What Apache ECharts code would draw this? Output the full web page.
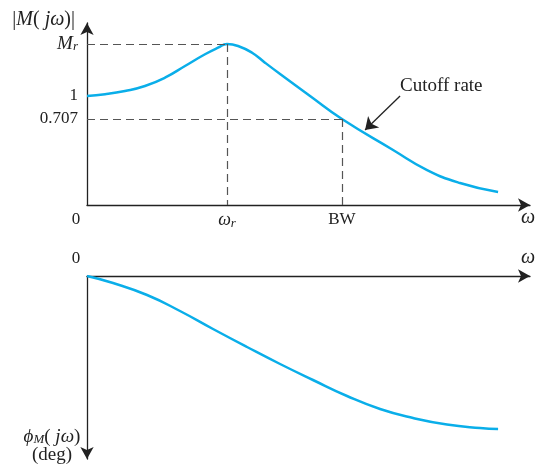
<!DOCTYPE html>
<html>
<head>
<meta charset="utf-8">
<script src="https://cdn.jsdelivr.net/npm/echarts@6/dist/echarts.min.js"></script>
<style>html,body{margin:0;padding:0;background:#fff;}#c{width:536px;height:470px;}</style>
</head>
<body>
<div id="c"></div>
<script>
// ---- data (schematic frequency-response curves) ----
const omegaMag = [0, 0.129, 0.271, 0.414, 0.557, 0.7, 0.843, 0.936, 1.0, 1.079, 1.179, 1.271, 1.379, 1.593, 1.821, 2.186, 2.429, 2.664, 2.936];
const magValues = [1.0, 1.016, 1.046, 1.092, 1.168, 1.275, 1.383, 1.443, 1.477, 1.459, 1.397, 1.306, 1.202, 1.0, 0.789, 0.505, 0.321, 0.202, 0.119];
const omegaPhase = [0, 0.186, 0.429, 0.664, 0.9, 1.143, 1.379, 1.614, 1.857, 2.093, 2.329, 2.571, 2.807, 2.936];
const phaseValues = [0, -7, -19, -35, -53, -71, -88, -104, -120, -133, -142, -148.5, -152, -153];

const omegaR = 1.0;        // resonant frequency
const bandwidth = 1.821;   // BW
const peakM = 1.477;       // M_r
const cutoffLevel = 0.789; // drawn level labelled 0.707
const yTickValues = [cutoffLevel, 1, peakM];
const yTickLabels = ['0.707', '1', '{m|M}{sub|r}'];
const xTickValues = [0, omegaR, bandwidth];
const xTickLabels = ['{z|0}', '{i|ω}{sub|r}', 'BW'];
const cutoffArrowFrom = [2.236, 1.0];
const cutoffArrowTo = [1.986, 0.688];
const cutoffText = 'Cutoff rate';
const cutoffTextAt = [2.236, 1.092];

const FONT = 'Liberation Serif';
const INK = '#222';
const BLUE = '#0aaee9';
const rich = {
  i: {fontFamily: FONT, fontStyle: 'italic', fontSize: 18, color: INK},
  m: {fontFamily: FONT, fontStyle: 'italic', fontSize: 19, color: INK},
  n: {fontFamily: FONT, fontStyle: 'italic', fontSize: 20, color: INK},
  sub: {fontFamily: FONT, fontStyle: 'italic', fontSize: 13, color: INK, verticalAlign: 'bottom', padding: [6, 0, 0, 0]},
  z: {fontFamily: FONT, fontSize: 17, color: INK, padding: [0, 22, 0, 0]}
};
const richPhase = {
  m: {fontFamily: FONT, fontStyle: 'italic', fontSize: 19, lineHeight: 18, color: INK},
  r: {fontFamily: FONT, fontSize: 19, lineHeight: 18, color: INK},
  sub: {fontFamily: FONT, fontStyle: 'italic', fontSize: 13, lineHeight: 18, color: INK, verticalAlign: 'bottom', padding: [5, 0, 0, 0]}
};
const axisLineBase = {color: INK, width: 1.3};

const magData = omegaMag.map((w, k) => [w, magValues[k]]);
const phaseData = omegaPhase.map((w, k) => [w, phaseValues[k]]);
const near = (a, b) => Math.abs(a - b) < 1e-6;

const chart = echarts.init(document.getElementById('c'), null, {renderer: 'canvas'});
chart.setOption({
  animation: false,
  backgroundColor: '#fff',
  grid: [
    {left: 87, top: 23, width: 443, height: 182, outerBoundsMode: 'none', containLabel: false},
    {left: 87, top: 276, width: 443, height: 183, outerBoundsMode: 'none', containLabel: false}
  ],
  xAxis: [
    {
      gridIndex: 0, type: 'value', min: 0, max: 3.164, position: 'bottom',
      axisLine: {show: true, onZero: false, lineStyle: axisLineBase, symbol: ['none', 'arrow'], symbolSize: [10, 12]},
      axisTick: {show: false}, splitLine: {show: false},
      axisLabel: {
        customValues: xTickValues, margin: 6, fontFamily: FONT, fontSize: 17, color: INK, rich: rich,
        formatter: v => { for (let k = 0; k < xTickValues.length; k++) if (near(v, xTickValues[k])) return xTickLabels[k]; return ''; }
      },
      name: 'ω', nameLocation: 'end', nameGap: -9, nameMoveOverlap: false,
      nameTextStyle: {fontFamily: FONT, fontStyle: 'italic', fontSize: 20, color: INK, align: 'left', verticalAlign: 'top', padding: [3, 0, 0, 0]}
    },
    {
      gridIndex: 1, type: 'value', min: 0, max: 3.164, position: 'top',
      axisLine: {show: true, onZero: false, lineStyle: axisLineBase, symbol: ['none', 'arrow'], symbolSize: [10, 12]},
      axisTick: {show: false}, splitLine: {show: false},
      axisLabel: {customValues: [0], margin: 9, fontFamily: FONT, fontSize: 17, color: INK, rich: rich, formatter: () => '{z|0}'},
      name: 'ω', nameLocation: 'end', nameGap: -9, nameMoveOverlap: false,
      nameTextStyle: {fontFamily: FONT, fontStyle: 'italic', fontSize: 20, color: INK, align: 'left', verticalAlign: 'bottom', padding: [0, 0, 8, 0]}
    }
  ],
  yAxis: [
    {
      gridIndex: 0, type: 'value', min: 0, max: 1.6697,
      axisLine: {show: true, onZero: false, lineStyle: axisLineBase, symbol: ['none', 'arrow'], symbolSize: [10, 12]},
      axisTick: {show: false}, splitLine: {show: false},
      axisLabel: {
        customValues: yTickValues, margin: 9, fontFamily: FONT, fontSize: 17, color: INK, rich: rich,
        formatter: v => { for (let k = 0; k < yTickValues.length; k++) if (near(v, yTickValues[k])) return yTickLabels[k]; return ''; }
      },
      name: '|{n|M}( {n|jω})|', nameLocation: 'end', nameGap: 3, nameMoveOverlap: false,
      nameTextStyle: {fontFamily: FONT, fontSize: 20, color: INK, align: 'right', verticalAlign: 'middle', padding: [0, 12, 0, 0], rich: rich}
    },
    {
      gridIndex: 1, type: 'value', min: -183, max: 0,
      axisLine: {show: true, onZero: false, lineStyle: axisLineBase, symbol: ['arrow', 'none'], symbolSize: [10, 12]},
      axisTick: {show: false}, splitLine: {show: false}, axisLabel: {show: false},
      name: '{m|ϕ}{sub|M}{r|( }{m|jω}{r|)}\n{r|(deg)}', nameLocation: 'start', nameGap: -13, nameMoveOverlap: false,
      nameTextStyle: {fontFamily: FONT, fontSize: 19, lineHeight: 18, color: INK, align: 'center', verticalAlign: 'middle', padding: [0, 70, 0, 0], rich: richPhase}
    }
  ],
  series: [
    {
      type: 'line', xAxisIndex: 0, yAxisIndex: 0, data: magData, smooth: 0.5, showSymbol: false,
      lineStyle: {color: BLUE, width: 2.5}, silent: true,
      markLine: {
        silent: true, symbol: 'none', animation: false,
        lineStyle: {color: '#555', type: [8, 5], width: 1.2}, label: {show: false},
        data: [
          [{coord: [0, peakM]}, {coord: [omegaR, peakM]}],
          [{coord: [omegaR, peakM]}, {coord: [omegaR, 0]}],
          [{coord: [0, cutoffLevel]}, {coord: [bandwidth, cutoffLevel]}],
          [{coord: [bandwidth, cutoffLevel]}, {coord: [bandwidth, 0]}]
        ]
      }
    },
    {
      type: 'line', xAxisIndex: 0, yAxisIndex: 0, data: [], silent: true,
      markLine: {
        silent: true, symbol: ['none', 'arrow'], symbolSize: 12, animation: false,
        lineStyle: {color: INK, type: 'solid', width: 1.3}, label: {show: false},
        itemStyle: {color: INK},
        data: [[{coord: cutoffArrowFrom}, {coord: cutoffArrowTo}]]
      },
      markPoint: {
        silent: true, symbol: 'circle', symbolSize: 0, animation: false,
        label: {show: true, position: [0, 0], align: 'left', verticalAlign: 'middle', fontFamily: FONT, fontSize: 19, color: INK, formatter: cutoffText},
        data: [{coord: cutoffTextAt}]
      }
    },
    {
      type: 'line', xAxisIndex: 1, yAxisIndex: 1, data: phaseData, smooth: 0.5, showSymbol: false,
      lineStyle: {color: BLUE, width: 2.5}, silent: true
    }
  ]
});
</script>
</body>
</html>
